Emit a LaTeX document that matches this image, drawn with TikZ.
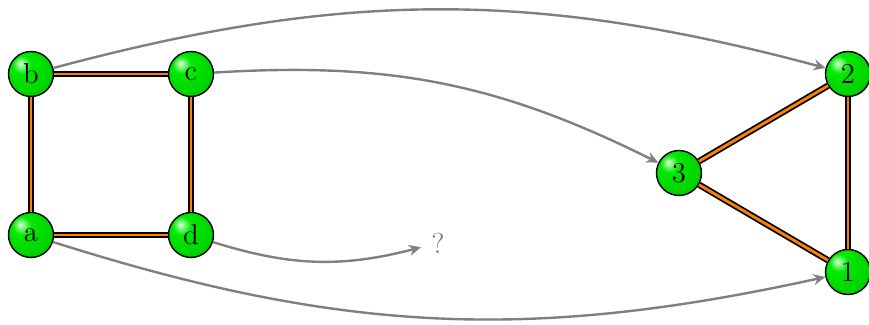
\documentclass[tikz,border=0pt]{standalone}
\usetikzlibrary{arrows.meta}
\pgfdeclareradialshading{greenball}{\pgfpoint{-12bp}{12bp}}{%
  color(0bp)=(green!15!white);
  color(10bp)=(green!92!black);
  color(30bp)=(green!82!black);
  color(50bp)=(green!60!black);
  color(70bp)=(green!45!black)}
\begin{document}
\begin{tikzpicture}[x=0.5pt,y=-0.5pt,
  vertex/.style={circle, draw=black, line width=0.7pt, shading=greenball,
    minimum size=22.5pt, inner sep=0pt, font=\Large},
  link/.style={draw=black, line width=0.9pt, double=orange, double distance=1.4pt},
  arr/.style={draw=gray, line width=1.2pt, -{Stealth[length=6pt,width=5.5pt,inset=2pt]}},
  qmark/.style={text=gray, inner sep=5pt, font=\Large}]
\useasboundingbox (0,0) rectangle (869,325);
\node[vertex] (b) at (31,74) {b};
\node[vertex] (c) at (191,74) {c};
\node[vertex] (a) at (31,235) {a};
\node[vertex] (d) at (191,235) {d};
\node[vertex] (n3) at (679,173) {3};
\node[vertex] (n2) at (848,74) {2};
\node[vertex] (n1) at (848,272) {1};
\node[qmark] (q) at (438,243) {?};
\draw[link] (b) -- (c);
\draw[link] (c) -- (d);
\draw[link] (d) -- (a);
\draw[link] (a) -- (b);
\draw[link] (n3) -- (n2);
\draw[link] (n2) -- (n1);
\draw[link] (n1) -- (n3);
\draw[arr] (b) to[bend left=15] (n2);
\draw[arr] (c) to[bend left=15] (n3);
\draw[arr] (d) to[bend right=16] (q);
\draw[arr] (a) to[bend right=15] (n1);
\end{tikzpicture}
\end{document}
